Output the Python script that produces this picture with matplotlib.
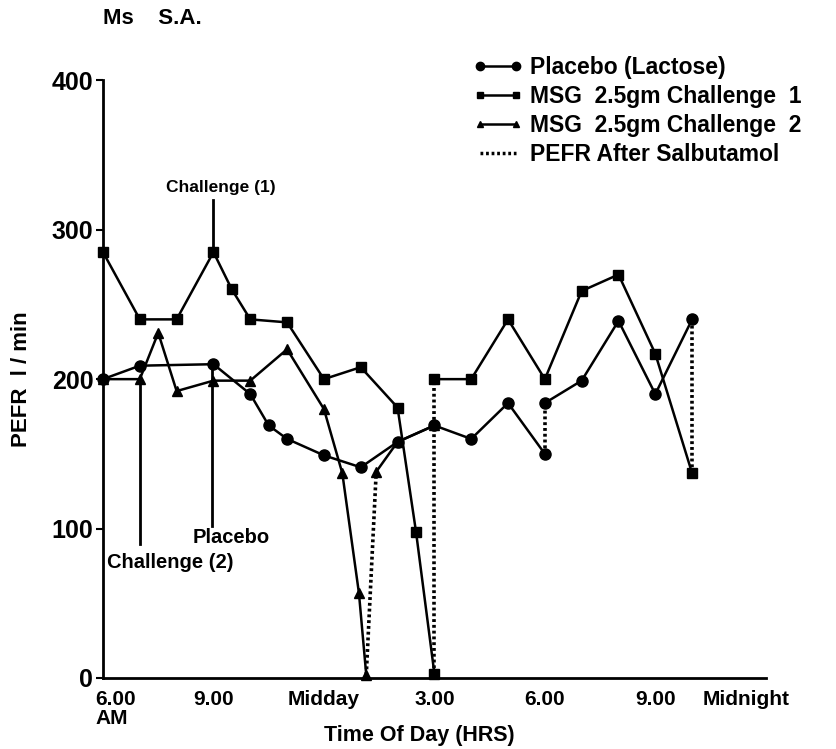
import matplotlib
matplotlib.use("Agg")
import matplotlib.pyplot as plt
from matplotlib.lines import Line2D
from matplotlib.transforms import ScaledTranslation

plt.rcParams['font.family'] = ['Liberation Sans', 'DejaVu Sans']
plt.rcParams['font.weight'] = 'bold'
plt.rcParams['axes.labelweight'] = 'bold'

# hours after 6 AM
placebo_t1 = [0, 1, 3, 4, 4.5, 5, 6, 7, 8, 9, 10, 11, 12]
placebo_v1 = [200, 209, 210, 190, 169, 160, 149, 141, 158, 169, 160, 184, 150]
placebo_t2 = [12, 13, 14, 15, 16]
placebo_v2 = [184, 199, 239, 190, 240]

msg1_t1 = [0, 1, 2, 3, 3.5, 4, 5, 6, 7, 8, 8.5, 9]
msg1_v1 = [285, 240, 240, 285, 260, 240, 238, 200, 208, 181, 98, 3]
msg1_t2 = [9, 10, 11, 12, 13, 14, 15, 16]
msg1_v2 = [200, 200, 240, 200, 259, 270, 217, 137]

msg2_t1 = [0, 1, 1.5, 2, 3, 4, 5, 6, 6.5, 6.95, 7.15]
msg2_v1 = [200, 200, 231, 192, 199, 199, 220, 180, 137, 57, 2]
msg2_t2 = [7.42, 8, 9]
msg2_v2 = [138, 158, 169]

# salbutamol jumps: (t0, v0, t1, v1)
salb = [(7.15, 2, 7.42, 138), (9, 3, 9, 200), (12, 150, 12, 184), (16, 137, 16, 240)]

tick_pos = [0, 3, 6, 9, 12, 15, 18]
tick_lab = ['6.00\nAM', '9.00', 'Midday', '3.00', '6.00', '9.00', 'Midnight']

fig = plt.figure(figsize=(8.36, 7.49), dpi=100)
ax = fig.add_axes([0.1232, 0.0948, 0.7928, 0.798])

lw = 1.8
kw = dict(color='black', lw=lw, clip_on=False, zorder=3)
ax.plot(placebo_t1, placebo_v1, marker='o', ms=8, **kw)
ax.plot(placebo_t2, placebo_v2, marker='o', ms=8, **kw)
ax.plot(msg1_t1, msg1_v1, marker='s', ms=7, **kw)
ax.plot(msg1_t2, msg1_v2, marker='s', ms=7, **kw)
ax.plot(msg2_t1, msg2_v1, marker='^', ms=7, **kw)
ax.plot(msg2_t2, msg2_v2, marker='^', ms=7, **kw)
for t0, v0, t1, v1 in salb:
    ax.plot([t0, t1], [v0, v1], color='black', lw=2.6, ls=(0, (0.8, 0.8)),
            clip_on=False, zorder=2)

# challenge markers
ax.plot([3, 3], [285, 320], color='black', lw=2, zorder=2)
ax.text(3.2, 328, 'Challenge (1)', ha='center', va='center', fontsize=12.5)
ax.plot([1, 1], [200, 90], color='black', lw=2, zorder=2)
ax.text(0.1, 77, 'Challenge (2)', ha='left', va='center', fontsize=14.5)
ax.plot([2.95, 2.95], [210, 102], color='black', lw=2, zorder=2)
ax.text(3.48, 94, 'Placebo', ha='center', va='center', fontsize=14.5)

ax.set_xlim(0, 18)
ax.set_ylim(0, 400)
for s in ['top', 'right']:
    ax.spines[s].set_visible(False)
for s in ['left', 'bottom']:
    ax.spines[s].set_linewidth(2)

ax.set_yticks([0, 100, 200, 300, 400])
ax.tick_params(axis='y', length=5, width=1.5, labelsize=18, pad=2)
ax.set_xticks(tick_pos)
ax.set_xticklabels(tick_lab)
ax.tick_params(axis='x', length=0, labelsize=15, pad=9)
for lab in ax.get_xticklabels():
    lab.set_va('top')
first = ax.get_xticklabels()[0]
first.set_ha('left')
first.set_multialignment('left')
first.set_linespacing(1.0)
first.set_transform(first.get_transform() + ScaledTranslation(-8 / 100, 0, fig.dpi_scale_trans))
last = ax.get_xticklabels()[-1]
last.set_transform(last.get_transform() + ScaledTranslation(-20 / 100, 0, fig.dpi_scale_trans))

ax.set_xlabel('Time Of Day (HRS)', fontsize=15.5)
ax.xaxis.set_label_coords(0.478, -0.097)
ax.xaxis.label.set_va('center')
ax.set_ylabel('PEFR  l / min', fontsize=16, labelpad=14)

fig.text(0.123, 0.975, 'Ms    S.A.', fontsize=16, va='center', ha='left')

handles = [
    Line2D([], [], color='black', lw=lw, marker='o', ms=6),
    Line2D([], [], color='black', lw=lw, marker='s', ms=5),
    Line2D([], [], color='black', lw=lw, marker='^', ms=5),
    Line2D([], [], color='black', lw=2.5, ls=(0, (0.8, 0.8))),
]
labels = ['Placebo (Lactose)', 'MSG  2.5gm Challenge  1',
          'MSG  2.5gm Challenge  2', 'PEFR After Salbutamol']
fig.legend(handles, labels, loc='upper left', bbox_to_anchor=(0.552, 0.94),
           frameon=False, fontsize=16.5, numpoints=2, handlelength=2.2,
           handletextpad=0.3, labelspacing=0.25, borderpad=0)

fig.savefig('out.png', dpi=100)
